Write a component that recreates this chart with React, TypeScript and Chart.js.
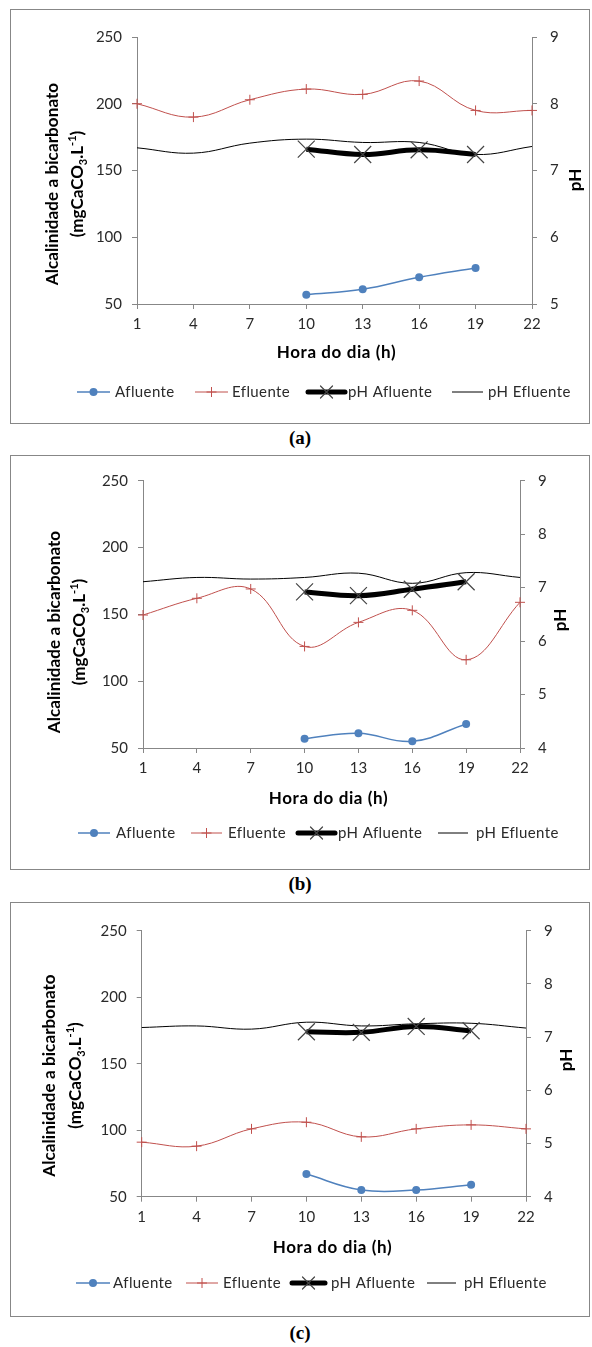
import React, { useEffect, useRef } from "react";
import { Chart, registerables } from "chart.js";

Chart.register(...registerables);

// ---------- data ----------
const hours = ["1", "4", "7", "10", "13", "16", "19", "22"];

const afluenteA = [null, null, null, 57, 61, 70, 77, null];
const efluenteA = [200, 190, 203, 211, 207, 217, 195, 195];
const phAfluenteA = [null, null, null, 7.32, 7.24, 7.31, 7.24, null];
const phEfluenteA = [7.34, 7.26, 7.41, 7.47, 7.42, 7.42, 7.24, 7.36];

const afluenteB = [null, null, null, 57, 61, 55, 68, null];
const efluenteB = [149.5, 162, 169, 126, 144, 153, 116, 159];
const phAfluenteB = [null, null, null, 6.92, 6.85, 6.97, 7.11, null];
const phEfluenteB = [7.11, 7.19, 7.16, 7.19, 7.27, 7.08, 7.28, 7.19];

const afluenteC = [null, null, null, 67, 55, 55, 59, null];
const efluenteC = [91, 88, 101, 106, 95, 101, 104, 101];
const phAfluenteC = [null, null, null, 7.1, 7.09, 7.2, 7.12, null];
const phEfluenteC = [7.18, 7.21, 7.15, 7.28, 7.21, 7.25, 7.26, 7.17];

const seriesNames = ["Afluente", "Efluente", "pH Afluente", "pH Efluente"];
const leftTicks = [50, 100, 150, 200, 250];
const panelLabels = ["(a)", "(b)", "(c)"];

// ---------- styles ----------
const FONT = "Lato, 'DejaVu Sans', sans-serif";
const AXIS = "#878787";
const TXT = "#2a2a2a";
const BLUE = "#4F81BD";
const RED = "#C0504D";

const BOX_LEFT = 10;
const BOX_W = 580;
const BOX_H = 415;

type Panel = {
  label: string;
  boxTop: number;
  area: { L: number; R: number; T: number; B: number };
  phMin: number;
  data: any[][];
  leftTitleX: number[];
  leftTitleY: number;
  phX: number;
  phY: number;
  xTitleX: number;
  xTitleY: number;
  legendY: number;
  legend: number[][];
  labelY: number;
};

const panels: Panel[] = [
  {
    label: panelLabels[0],
    boxTop: 9,
    area: { L: 137, R: 532, T: 37, B: 304 },
    phMin: 5,
    data: [afluenteA, efluenteA, phAfluenteA, phEfluenteA],
    leftTitleX: [53, 78],
    leftTitleY: 184,
    phX: 576,
    phY: 180,
    xTitleX: 336.5,
    xTitleY: 353,
    legendY: 392,
    legend: [
      [77, 110, 115],
      [195, 228, 232],
      [308, 345, 348],
      [452, 483, 488],
    ],
    labelY: 438,
  },
  {
    label: panelLabels[1],
    boxTop: 455,
    area: { L: 143, R: 520, T: 480.7, B: 748 },
    phMin: 4,
    data: [afluenteB, efluenteB, phAfluenteB, phEfluenteB],
    leftTitleX: [55, 80],
    leftTitleY: 632,
    phX: 561,
    phY: 620,
    xTitleX: 328.5,
    xTitleY: 799,
    legendY: 833,
    legend: [
      [78, 110, 116],
      [191, 222, 228],
      [298, 335, 338],
      [438, 468, 476],
    ],
    labelY: 884,
  },
  {
    label: panelLabels[2],
    boxTop: 902,
    area: { L: 141.7, R: 526, T: 930.7, B: 1196.7 },
    phMin: 4,
    data: [afluenteC, efluenteC, phAfluenteC, phEfluenteC],
    leftTitleX: [50, 76],
    leftTitleY: 1075.5,
    phX: 567,
    phY: 1060,
    xTitleX: 332.5,
    xTitleY: 1248,
    legendY: 1283,
    legend: [
      [76, 110, 113],
      [186, 218, 223],
      [292, 325, 331],
      [427, 456, 464],
    ],
    labelY: 1333,
  },
];

// rich text segments for the unit line
const unitSegments = [
  { t: "(mgCaCO", k: "n" },
  { t: "3", k: "sub" },
  { t: ".L", k: "n" },
  { t: "-1", k: "sup" },
  { t: ")", k: "n" },
];

function drawRich(ctx: CanvasRenderingContext2D, segs: any[], size: number) {
  const big = `bold ${size}px ${FONT}`;
  const small = `bold ${Math.round(size * 0.62)}px ${FONT}`;
  let total = 0;
  const widths = segs.map((s) => {
    ctx.font = s.k === "n" ? big : small;
    const w = ctx.measureText(s.t).width;
    total += w;
    return w;
  });
  let x = -total / 2;
  segs.forEach((s, i) => {
    ctx.font = s.k === "n" ? big : small;
    const dy = s.k === "sub" ? size * 0.3 : s.k === "sup" ? -size * 0.35 : 0;
    ctx.textAlign = "left";
    ctx.fillText(s.t, x, dy);
    x += widths[i];
  });
}

function drawMarker(ctx: CanvasRenderingContext2D, idx: number, cx: number, cy: number) {
  if (idx === 0) {
    ctx.fillStyle = BLUE;
    ctx.beginPath();
    ctx.arc(cx, cy, 4, 0, Math.PI * 2);
    ctx.fill();
  } else if (idx === 1) {
    ctx.strokeStyle = RED;
    ctx.lineWidth = 1;
    ctx.beginPath();
    ctx.moveTo(cx - 5, cy);
    ctx.lineTo(cx + 5, cy);
    ctx.moveTo(cx, cy - 5);
    ctx.lineTo(cx, cy + 5);
    ctx.stroke();
  } else if (idx === 2) {
    ctx.strokeStyle = "#444";
    ctx.lineWidth = 1.2;
    ctx.beginPath();
    ctx.moveTo(cx - 6, cy - 6);
    ctx.lineTo(cx + 6, cy + 6);
    ctx.moveTo(cx - 6, cy + 6);
    ctx.lineTo(cx + 6, cy - 6);
    ctx.stroke();
  }
}

const decorPlugin = {
  id: "decor",
  afterDraw(chart: any, _args: any, opts: any) {
    const p: Panel = opts.panel;
    if (!p) return;
    const ctx: any = chart.ctx;
    const ox = BOX_LEFT;
    const oy = p.boxTop;
    ctx.save();
    ctx.fillStyle = "#000";
    ctx.textBaseline = "middle";

    // left axis title (two lines)
    ctx.save();
    ctx.translate(p.leftTitleX[0] - ox, p.leftTitleY - oy);
    ctx.rotate(-Math.PI / 2);
    ctx.font = `bold 17px ${FONT}`;
    ctx.textAlign = "center";
    ctx.letterSpacing = "0.1px";
    ctx.fillText("Alcalinidade a bicarbonato", 0, 0);
    ctx.restore();

    ctx.save();
    ctx.translate(p.leftTitleX[1] - ox, p.leftTitleY - oy);
    ctx.rotate(-Math.PI / 2);
    drawRich(ctx, unitSegments, 17);
    ctx.restore();

    // right axis title
    ctx.save();
    ctx.translate(p.phX - ox, p.phY - oy);
    ctx.rotate(-Math.PI / 2);
    ctx.font = `bold 17px ${FONT}`;
    ctx.textAlign = "center";
    ctx.fillText("pH", 0, 0);
    ctx.restore();

    // x axis title
    ctx.save();
    ctx.font = `bold 17px ${FONT}`;
    ctx.textAlign = "center";
    ctx.letterSpacing = "0.6px";
    ctx.fillText("Hora do dia (h)", p.xTitleX - ox, p.xTitleY - oy);
    ctx.restore();

    // legend
    const ly = p.legendY - oy;
    const ds = chart.data.datasets;
    p.legend.forEach((pos, i) => {
      const x0 = pos[0] - ox;
      const x1 = pos[1] - ox;
      ctx.strokeStyle = ds[i].borderColor;
      ctx.lineWidth = ds[i].borderWidth;
      ctx.lineCap = i === 2 ? "round" : "butt";
      ctx.beginPath();
      ctx.moveTo(x0, ly);
      ctx.lineTo(x1, ly);
      ctx.stroke();
      drawMarker(ctx, i, (x0 + x1) / 2, ly);
      ctx.save();
      ctx.fillStyle = TXT;
      ctx.font = `15px ${FONT}`;
      ctx.textAlign = "left";
      ctx.letterSpacing = "0.4px";
      ctx.fillText(ds[i].label, pos[2] - ox, ly);
      ctx.restore();
    });
    ctx.restore();
  },
};

function PanelChart({ p }: { p: Panel }) {
  const ref = useRef<HTMLCanvasElement>(null);
  useEffect(() => {
    const canvas = ref.current;
    if (!canvas) return;
    const tickFont = { family: FONT, size: 15 };
    const chart = new Chart(canvas, {
      type: "line",
      data: {
        labels: hours,
        datasets: [
          {
            label: seriesNames[0],
            data: p.data[0],
            yAxisID: "y",
            borderColor: BLUE,
            backgroundColor: BLUE,
            borderWidth: 1.5,
            pointStyle: "circle",
            pointRadius: 4,
            pointBorderWidth: 0,
            pointBackgroundColor: BLUE,
            tension: 0.4,
          },
          {
            label: seriesNames[1],
            data: p.data[1],
            yAxisID: "y",
            borderColor: RED,
            backgroundColor: RED,
            borderWidth: 1,
            pointStyle: "cross",
            pointRadius: 5,
            pointBorderWidth: 1,
            pointBorderColor: RED,
            tension: 0.4,
          },
          {
            label: seriesNames[2],
            data: p.data[2],
            yAxisID: "y1",
            borderColor: "#000000",
            backgroundColor: "#000000",
            borderWidth: 5,
            pointStyle: "crossRot",
            pointRadius: 12,
            pointBorderWidth: 1.2,
            pointBorderColor: "#444444",
            tension: 0.4,
          },
          {
            label: seriesNames[3],
            data: p.data[3],
            yAxisID: "y1",
            borderColor: "#000000",
            backgroundColor: "#000000",
            borderWidth: 1,
            pointRadius: 0,
            tension: 0.4,
          },
        ],
      },
      options: {
        responsive: false,
        maintainAspectRatio: false,
        animation: false,
        events: [],
        layout: { padding: { top: p.area.T - p.boxTop, left: 0, right: 0, bottom: 0 } },
        plugins: {
          legend: { display: false },
          tooltip: { enabled: false },
          title: { display: false },
          decor: { panel: p },
        } as any,
        scales: {
          x: {
            type: "category",
            offset: false,
            grid: {
              display: true,
              drawOnChartArea: false,
              drawTicks: true,
              tickLength: 5,
              color: AXIS,
              offset: false,
            },
            border: { display: true, color: AXIS, width: 1 },
            ticks: { font: tickFont, color: TXT, padding: 6, maxRotation: 0, autoSkip: false },
            afterFit: (s: any) => {
              s.height = BOX_H - (p.area.B - p.boxTop);
            },
          },
          y: {
            position: "left",
            min: leftTicks[0],
            max: leftTicks[leftTicks.length - 1],
            grid: { display: true, drawOnChartArea: false, drawTicks: true, tickLength: 5, color: AXIS },
            border: { display: true, color: AXIS, width: 1 },
            ticks: { stepSize: 50, font: tickFont, color: TXT, padding: 10 },
            afterFit: (s: any) => {
              s.width = p.area.L - BOX_LEFT;
            },
          },
          y1: {
            position: "right",
            min: p.phMin,
            max: 9,
            grid: { display: true, drawOnChartArea: false, drawTicks: true, tickLength: 5, color: AXIS },
            border: { display: true, color: AXIS, width: 1 },
            ticks: { stepSize: 1, font: tickFont, color: TXT, padding: 13 },
            afterFit: (s: any) => {
              s.width = BOX_LEFT + BOX_W - p.area.R;
            },
          },
        },
      },
      plugins: [decorPlugin as any],
    });
    return () => chart.destroy();
  }, [p]);

  return (
    <>
      <div
        style={{
          position: "absolute",
          left: BOX_LEFT,
          top: p.boxTop,
          width: BOX_W,
          height: BOX_H,
          boxSizing: "border-box",
          border: `1px solid ${AXIS}`,
        }}
      />
      <canvas
        ref={ref}
        width={BOX_W}
        height={BOX_H}
        style={{ position: "absolute", left: BOX_LEFT, top: p.boxTop, width: BOX_W, height: BOX_H }}
      />
      <div
        style={{
          position: "absolute",
          left: 0,
          width: 600,
          top: p.labelY - 11,
          height: 22,
          lineHeight: "22px",
          textAlign: "center",
          fontFamily: "'Liberation Serif', 'Times New Roman', serif",
          fontWeight: "bold",
          fontSize: 19,
          color: "#000",
        }}
      >
        {p.label}
      </div>
    </>
  );
}

export default function App() {
  return (
    <div
      style={{
        position: "absolute",
        left: 0,
        top: 0,
        width: 592,
        height: 1347,
        background: "#fff",
        overflow: "hidden",
      }}
    >
      {panels.map((p) => (
        <PanelChart key={p.label} p={p} />
      ))}
    </div>
  );
}
